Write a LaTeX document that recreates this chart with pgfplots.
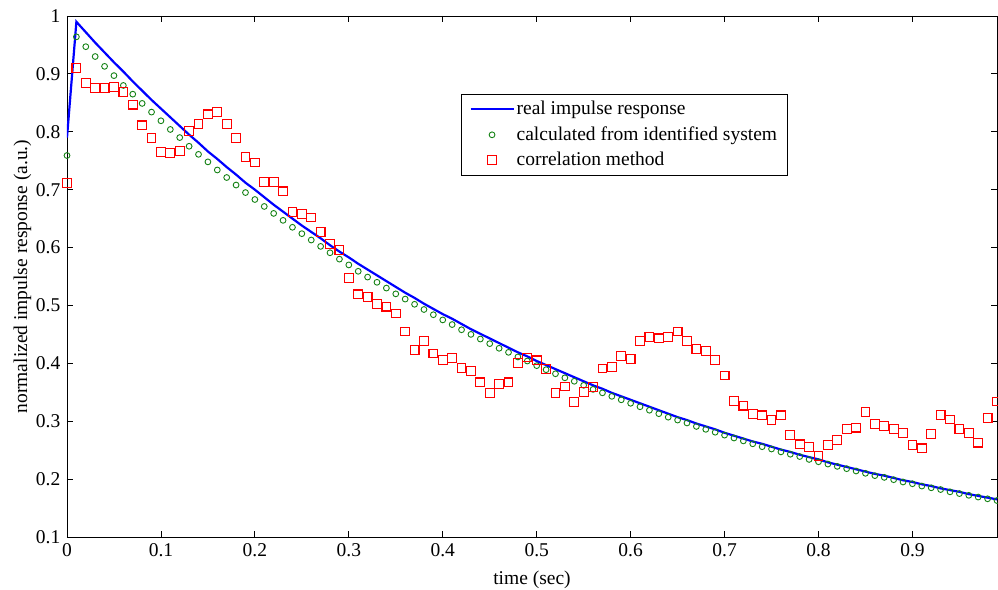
\documentclass[border=0pt]{standalone}
\usepackage{fontspec}
\setmainfont{Liberation Serif}
\usepackage{pgfplots}
\usepackage{pgfplotstable}
\pgfplotsset{compat=1.18}
\definecolor{mgreen}{RGB}{20,130,20}
\definecolor{mred}{RGB}{255,0,0}
\pgfplotstableread{
t b g r
0.00 0.790 0.759 0.712
0.01 0.990 0.964 0.910
0.02 0.972 0.947 0.884
0.03 0.954 0.930 0.876
0.04 0.937 0.913 0.876
0.05 0.920 0.897 0.877
0.06 0.904 0.880 0.869
0.07 0.887 0.865 0.847
0.08 0.871 0.849 0.811
0.09 0.855 0.834 0.789
0.10 0.840 0.819 0.765
0.11 0.825 0.804 0.763
0.12 0.810 0.790 0.767
0.13 0.795 0.775 0.801
0.14 0.781 0.761 0.813
0.15 0.766 0.748 0.830
0.16 0.753 0.734 0.834
0.17 0.739 0.721 0.813
0.18 0.726 0.708 0.789
0.19 0.712 0.695 0.756
0.20 0.700 0.683 0.747
0.21 0.687 0.671 0.713
0.22 0.674 0.659 0.713
0.23 0.662 0.647 0.697
0.24 0.650 0.635 0.661
0.25 0.638 0.624 0.658
0.26 0.627 0.613 0.652
0.27 0.616 0.602 0.627
0.28 0.604 0.591 0.606
0.29 0.593 0.580 0.596
0.30 0.583 0.570 0.548
0.31 0.572 0.559 0.519
0.32 0.562 0.549 0.515
0.33 0.552 0.540 0.502
0.34 0.542 0.530 0.498
0.35 0.532 0.520 0.486
0.36 0.522 0.511 0.455
0.37 0.513 0.502 0.423
0.38 0.503 0.493 0.439
0.39 0.494 0.484 0.417
0.40 0.485 0.475 0.406
0.41 0.477 0.467 0.409
0.42 0.468 0.458 0.392
0.43 0.459 0.450 0.387
0.44 0.451 0.442 0.367
0.45 0.443 0.434 0.349
0.46 0.435 0.426 0.364
0.47 0.427 0.419 0.367
0.48 0.419 0.411 0.400
0.49 0.412 0.404 0.410
0.50 0.404 0.396 0.405
0.51 0.397 0.389 0.390
0.52 0.390 0.382 0.349
0.53 0.383 0.375 0.360
0.54 0.376 0.369 0.333
0.55 0.369 0.362 0.351
0.56 0.362 0.355 0.359
0.57 0.356 0.349 0.391
0.58 0.349 0.343 0.394
0.59 0.343 0.337 0.413
0.60 0.337 0.331 0.408
0.61 0.331 0.325 0.439
0.62 0.325 0.319 0.445
0.63 0.319 0.313 0.443
0.64 0.313 0.307 0.445
0.65 0.307 0.302 0.455
0.66 0.302 0.297 0.439
0.67 0.296 0.291 0.425
0.68 0.291 0.286 0.421
0.69 0.286 0.281 0.406
0.70 0.280 0.276 0.379
0.71 0.275 0.271 0.335
0.72 0.270 0.266 0.327
0.73 0.265 0.261 0.313
0.74 0.261 0.256 0.310
0.75 0.256 0.252 0.302
0.76 0.251 0.247 0.310
0.77 0.247 0.243 0.276
0.78 0.242 0.239 0.260
0.79 0.238 0.234 0.255
0.80 0.234 0.230 0.240
0.81 0.229 0.226 0.259
0.82 0.225 0.222 0.267
0.83 0.221 0.218 0.287
0.84 0.217 0.214 0.289
0.85 0.213 0.210 0.316
0.86 0.209 0.206 0.295
0.87 0.206 0.203 0.292
0.88 0.202 0.199 0.287
0.89 0.198 0.195 0.280
0.90 0.195 0.192 0.259
0.91 0.191 0.188 0.253
0.92 0.188 0.185 0.278
0.93 0.184 0.182 0.311
0.94 0.181 0.178 0.303
0.95 0.178 0.175 0.287
0.96 0.174 0.172 0.280
0.97 0.171 0.169 0.263
0.98 0.168 0.166 0.305
0.99 0.165 0.163 0.334
}\data
\begin{document}
\fontsize{19.5bp}{23bp}\selectfont
\begin{tikzpicture}
\path[use as bounding box] (-67bp,-53bp) rectangle (931bp,537bp);
\begin{axis}[
  at={(0,0)}, anchor=south west,
  scale only axis, width=930bp, height=521bp,
  xmin=0, xmax=0.99, ymin=0.1, ymax=1,
  xtick={0,0.1,0.2,0.3,0.4,0.5,0.6,0.7,0.8,0.9},
  ytick={0.1,0.2,0.3,0.4,0.5,0.6,0.7,0.8,0.9,1},
  /pgf/number format/assume math mode=true,
  /pgf/number format/fixed,
  tick align=inside,
  major tick length=6bp,
  axis line style={line width=0.8bp},
  every tick/.style={black, line width=0.8bp},
  tick label style={font=\fontsize{19.5bp}{23bp}\selectfont},
  label style={font=\fontsize{19.5bp}{23bp}\selectfont},
  xlabel={time (sec)},
  ylabel={normalized impulse response (a.u.)},
  xlabel style={at={(axis description cs:0.5,0)}, anchor=base, yshift=-47bp},
  ylabel style={at={(axis description cs:-0.043,0.5)}, anchor=base, rotate=0},
  legend image code/.code={\draw[mark repeat=2,mark phase=2,#1] plot coordinates {(0bp,0bp) (21.5bp,0bp) (43bp,0bp)};},
  legend style={at={(0.4237,0.85)}, anchor=north west, draw=black, line width=0.8bp,
    font=\fontsize{19.5bp}{23bp}\selectfont, row sep=5bp, inner xsep=8bp, inner ysep=4.5bp},
  legend cell align=left,
]
\addplot[blue, line width=2.2bp] table[x=t, y=b] {\data};
\addlegendentry{real impulse response}
\addplot[only marks, mark=o, mark size=2.9bp, color=mgreen, mark options={draw=mgreen, fill=none, line width=0.9bp}] table[x=t, y=g] {\data};
\addlegendentry{calculated from identified system}
\addplot[only marks, mark=square, mark size=4.4bp, color=mred, mark options={draw=mred, fill=none, line width=1.1bp}] table[x=t, y=r] {\data};
\addlegendentry{correlation method}
\end{axis}
\end{tikzpicture}
\end{document}
